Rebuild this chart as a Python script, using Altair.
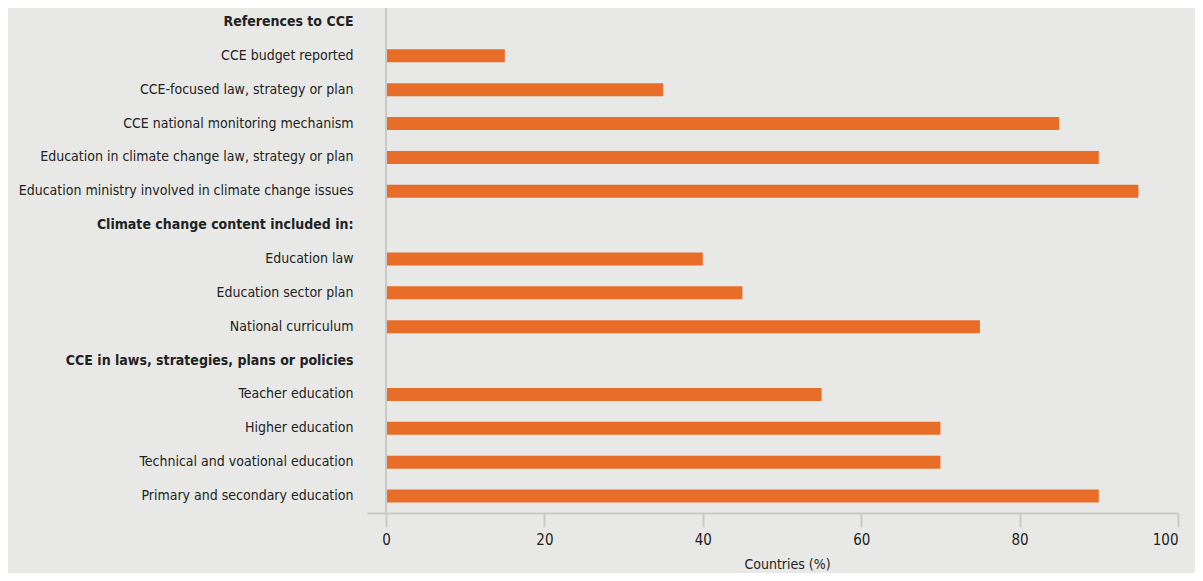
import altair as alt
import pandas as pd

categories = [
    "References to CCE",
    "CCE budget reported",
    "CCE-focused law, strategy or plan",
    "CCE national monitoring mechanism",
    "Education in climate change law, strategy or plan",
    "Education ministry involved in climate change issues",
    "Climate change content included in:",
    "Education law",
    "Education sector plan",
    "National curriculum",
    "CCE in laws, strategies, plans or policies",
    "Teacher education",
    "Higher education",
    "Technical and voational education",
    "Primary and secondary education",
]
values = [None, 15, 35, 85, 90, 95, None, 40, 45, 75, None, 55, 70, 70, 90]
headers = ["References to CCE", "Climate change content included in:",
           "CCE in laws, strategies, plans or policies"]
x_ticks = [0, 20, 40, 60, 80, 100]

df = pd.DataFrame({"category": categories, "value": values})

FONT = "DejaVu Sans Condensed"
GRID = "#c9cac6"
header_expr = "indexof(" + str(headers).replace('"', "'") + ", datum.value) >= 0 ? 'bold' : 'normal'"

x_scale = alt.Scale(domain=[-2.4, 100], nice=False, zero=False)
y_scale = alt.Scale(domain=categories, paddingInner=0.616, paddingOuter=0.22)

bars = alt.Chart(df).mark_bar(color="#e86d28").encode(
    x=alt.X("value:Q", scale=x_scale,
            axis=alt.Axis(values=x_ticks, title="Countries (%)", grid=False,
                          domainColor=GRID, domainWidth=2, tickColor=GRID,
                          tickWidth=2, tickSize=14, offset=3,
                          labelFont=FONT, labelFontSize=15, labelColor="#222",
                          labelPadding=5, titleFont=FONT, titleFontSize=14,
                          titleFontWeight="normal", titleColor="#222",
                          titlePadding=10, titleX=420)),
    x2=alt.datum(0),
    y=alt.Y("category:N", scale=y_scale, sort=categories,
            axis=alt.Axis(title=None, domain=False, ticks=False,
                          labelFont=FONT, labelFontSize=14, labelColor="#222",
                          labelPadding=14, labelLimit=400,
                          labelFontWeight=alt.expr(header_expr))),
)

zero_line = alt.Chart(df).mark_rule(color=GRID, strokeWidth=2).encode(
    x=alt.X("z:Q", scale=x_scale),
    y=alt.value(0),
    y2=alt.value(505),
).transform_calculate(z="0").transform_filter("datum.category == 'References to CCE'")

chart = alt.layer(bars, zero_line).properties(
    width=811, height=502,
    background="#e8e9e6",
    padding={"left": 359, "top": 0, "right": 17, "bottom": 63},
    autosize=alt.AutoSizeParams(type="none"),
).configure_view(stroke=None)

chart.save("out.html", embed_options={"renderer": "svg", "actions": False})
